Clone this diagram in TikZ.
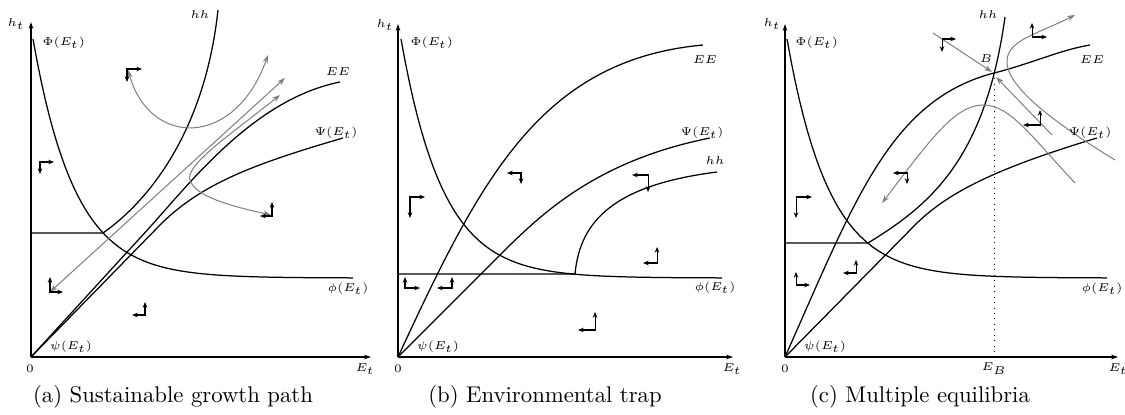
\documentclass[tikz,border=0pt]{standalone}
\usepackage{amsmath}
\usepackage{amssymb}
\usepackage{tikz}
\usetikzlibrary{arrows.meta}

\tikzset{
  curve/.style={line width=0.55pt},
  axis/.style={line width=0.55pt, -{Stealth[length=3pt,width=2pt]}},
  traj/.style={line width=0.45pt, black!50},
  phase/.style={line width=0.45pt, {Stealth[length=2.5pt,width=2pt]}-{Stealth[length=2.5pt,width=2pt]}},
  lbl/.style={font=\tiny, inner sep=1pt},
}

\begin{document}
\begin{tikzpicture}[x=0.44pt, y=-0.44pt, >={Stealth[length=3.5pt,width=2.4pt]}]
    \useasboundingbox (0,0) rectangle (1125,414);

    % ---------------- (a) sustainable growth path ----------------
    % axes
    \coordinate (Oa) at (31,357);
    \draw[axis] (Oa) -- (31,22);
    \draw[axis] (Oa) -- (371,357);

    % curves
    \draw[curve] plot[domain=33:353, samples=80] (\x, {278-239*exp(-(\x-33)/42)});
    \draw[curve] (31,233) -- (103,233) .. controls (150,200) and (205,130) .. (218,10);
    \draw[curve] (Oa) -- (140,238) .. controls (185,190) and (250,100) .. (340,82);
    \draw[curve] (Oa) -- (160,225) .. controls (200,185) and (250,165) .. (343,138);

    % trajectories
    \draw[traj, <->] (50,292) -- (285,78);
    \draw[traj, <->] (128,70) .. controls (150,148) and (235,148) .. (268,55);
    \draw[traj, <->] (280,95) .. controls (230,135) and (185,165) .. (190,180)
                              .. controls (195,198) and (240,208) .. (271,215);

    % phase arrows
    \draw[phase] (54,162) -- (40,162) -- (40,174);
    \draw[phase] (63,292) -- (50,292) -- (50,277);
    \draw[phase] (132,315) -- (145,315) -- (145,302);
    \draw[phase] (260,216) -- (272,216) -- (272,202);
    \draw[phase] (142,69) -- (127,69) -- (127,82);

    % labels
    \node[lbl] (htA) at (16,24) {$h_t$};
    \node[lbl] (hhA) at (200,15) {$hh$};
    \node[lbl, anchor=west] (PhiA) at (40,43) {$\Phi(E_t)$};
    \node[lbl] (EEA) at (338,72) {$EE$};
    \node[lbl] (PsiA) at (336,133) {$\Psi(E_t)$};
    \node[lbl] (phiA) at (348,289) {$\phi(E_t)$};
    \node[lbl] (psiA) at (71,347) {$\psi(E_t)$};
    \node[lbl] (zeroA) at (30,369) {$0$};
    \node[lbl] (EtA) at (365,369) {$E_t$};
    \node (capA) at (173,397) {(a) Sustainable growth path};

    % ---------------- (b) environmental trap ----------------
    % axes
    \coordinate (Ob) at (398,357);
    \draw[axis] (Ob) -- (398,24);
    \draw[axis] (Ob) -- (733,357);

    % curves
    \draw[curve] plot[domain=401:722, samples=80] (\x, {278-239*exp(-(\x-401)/42)});
    \draw[curve] (398,274) -- (575,274) .. controls (580,220) and (615,185) .. (717,172);
    \draw[curve] (Ob) .. controls (480,180) and (540,60) .. (703,45);
    \draw[curve] (Ob) -- (502,253) .. controls (545,210) and (600,160) .. (710,138);

    % phase arrows
    \draw[phase] (425,197) -- (410,197) -- (410,218);
    \draw[phase] (507,173) -- (521,173) -- (521,184);
    \draw[phase] (632,175) -- (648,175) -- (648,192);
    \draw[phase] (643,263) -- (657,263) -- (657,247);
    \draw[phase] (420,288) -- (405,288) -- (405,277);
    \draw[phase] (437,288) -- (452,288) -- (452,277);
    \draw[phase] (578,330) -- (595,330) -- (595,312);

    % labels
    \node[lbl] (htB) at (385,25) {$h_t$};
    \node[lbl, anchor=west] (PhiB) at (408,43) {$\Phi(E_t)$};
    \node[lbl] (EEB) at (705,60) {$EE$};
    \node[lbl] (PsiB) at (702,133) {$\Psi(E_t)$};
    \node[lbl] (hhB) at (715,161) {$hh$};
    \node[lbl] (phiB) at (715,288) {$\phi(E_t)$};
    \node[lbl] (psiB) at (438,347) {$\psi(E_t)$};
    \node[lbl] (zeroB) at (398,369) {$0$};
    \node[lbl] (EtB) at (732,369) {$E_t$};
    \node (capB) at (545,397) {(b) Environmental trap};

    % ---------------- (c) multiple equilibria ----------------
    % axes
    \coordinate (Oc) at (785,357);
    \draw[axis] (Oc) -- (785,24);
    \draw[axis] (Oc) -- (1118,357);

    % equilibrium B
    \coordinate (B) at (994,73);
    \draw[dotted, line width=0.4pt] (B) -- (994,357);

    % curves
    \draw[curve] plot[domain=787:1107, samples=80] (\x, {278-239*exp(-(\x-787)/42)});
    \draw[curve] (785,243) -- (868,243) .. controls (930,205) and (985,160) .. (1005,17);
    \draw[curve] (Oc) .. controls (855,200) and (890,100) .. (B)
                      .. controls (1030,64) and (1060,50) .. (1090,45);
    \draw[curve] (Oc) -- (915,225) .. controls (945,195) and (990,170) .. (1097,138);

    % trajectories
    \draw[traj, ->] (933,33) -- (992,72);
    \draw[traj, ->] (1052,135) -- (996,77);
    \draw[traj, ->] (1115,160) .. controls (1050,120) and (1005,85) .. (1007,60)
                               .. controls (1009,40) and (1035,35) .. (1075,15);
    \draw[traj, ->] (1075,183) .. controls (1030,135) and (1010,105) .. (983,105)
                               .. controls (955,105) and (930,140) .. (882,203);

    % phase arrows
    \draw[phase] (956,39) -- (942,39) -- (942,52);
    \draw[phase] (1047,37) -- (1032,37) -- (1032,23);
    \draw[phase] (1023,125) -- (1040,125) -- (1040,110);
    \draw[phase] (893,173) -- (907,173) -- (907,184);
    \draw[phase] (812,197) -- (796,197) -- (796,218);
    \draw[phase] (810,285) -- (796,285) -- (796,272);
    \draw[phase] (843,273) -- (856,273) -- (856,260);

    % labels
    \node[lbl] (htC) at (772,24) {$h_t$};
    \node[lbl] (hhC) at (988,15) {$hh$};
    \node[lbl, anchor=west] (PhiC) at (793,43) {$\Phi(E_t)$};
    \node[lbl] (BC) at (986,59) {$B$};
    \node[lbl] (EEC) at (1092,60) {$EE$};
    \node[lbl] (PsiC) at (1090,133) {$\Psi(E_t)$};
    \node[lbl] (phiC) at (1102,289) {$\phi(E_t)$};
    \node[lbl] (psiC) at (825,347) {$\psi(E_t)$};
    \node[lbl] (zeroC) at (785,369) {$0$};
    \node[lbl] (EBC) at (994,369) {$E_B$};
    \node[lbl] (EtC) at (1118,369) {$E_t$};
    \node (capC) at (920,397) {(c) Multiple equilibria};
\end{tikzpicture}
\end{document}
